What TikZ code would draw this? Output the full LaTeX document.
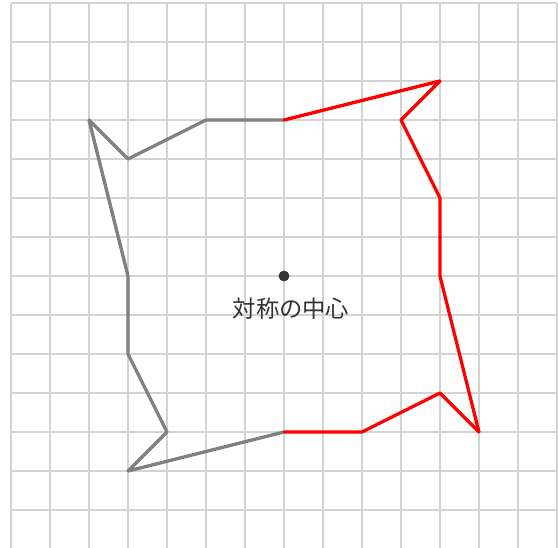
\documentclass[tikz,border=0pt]{standalone}
\usepackage{fontspec}
\newfontfamily\jpfont{Noto Sans CJK JP}
\definecolor{gridgray}{HTML}{D3D3D3}
\definecolor{shapegray}{HTML}{808080}
\definecolor{dotgray}{HTML}{333333}
\tikzset{
  half/.style={line width=2.4pt, line join=round, line cap=round},
  centerlabel/.style={font=\jpfont\fontsize{17}{20}\selectfont, text=dotgray, inner sep=0pt}
}
\begin{document}
\begin{tikzpicture}
\useasboundingbox (-7.282,-6.974) rectangle (7.026,7.077);
\draw[gridgray, line width=0.9pt] (-7,-7) grid (7,7); %background grid
% original half
\draw[half, shapegray] (0,4) -- (-2,4) -- (-4,3) -- (-5,4) -- (-4,0) -- (-4,-2) -- (-3,-4) -- (-4,-5) -- (0,-4);
% rotated half
\draw[half, red] (0,4) -- (4,5) -- (3,4) -- (4,2) -- (4,0) -- (5,-4) -- (4,-3) -- (2,-4) -- (0,-4);
\fill[dotgray] (0,0) circle (0.14) coordinate (center);
\node[centerlabel] (label) at (0.18,-0.84) {対称の中心};
\end{tikzpicture}
\end{document}
